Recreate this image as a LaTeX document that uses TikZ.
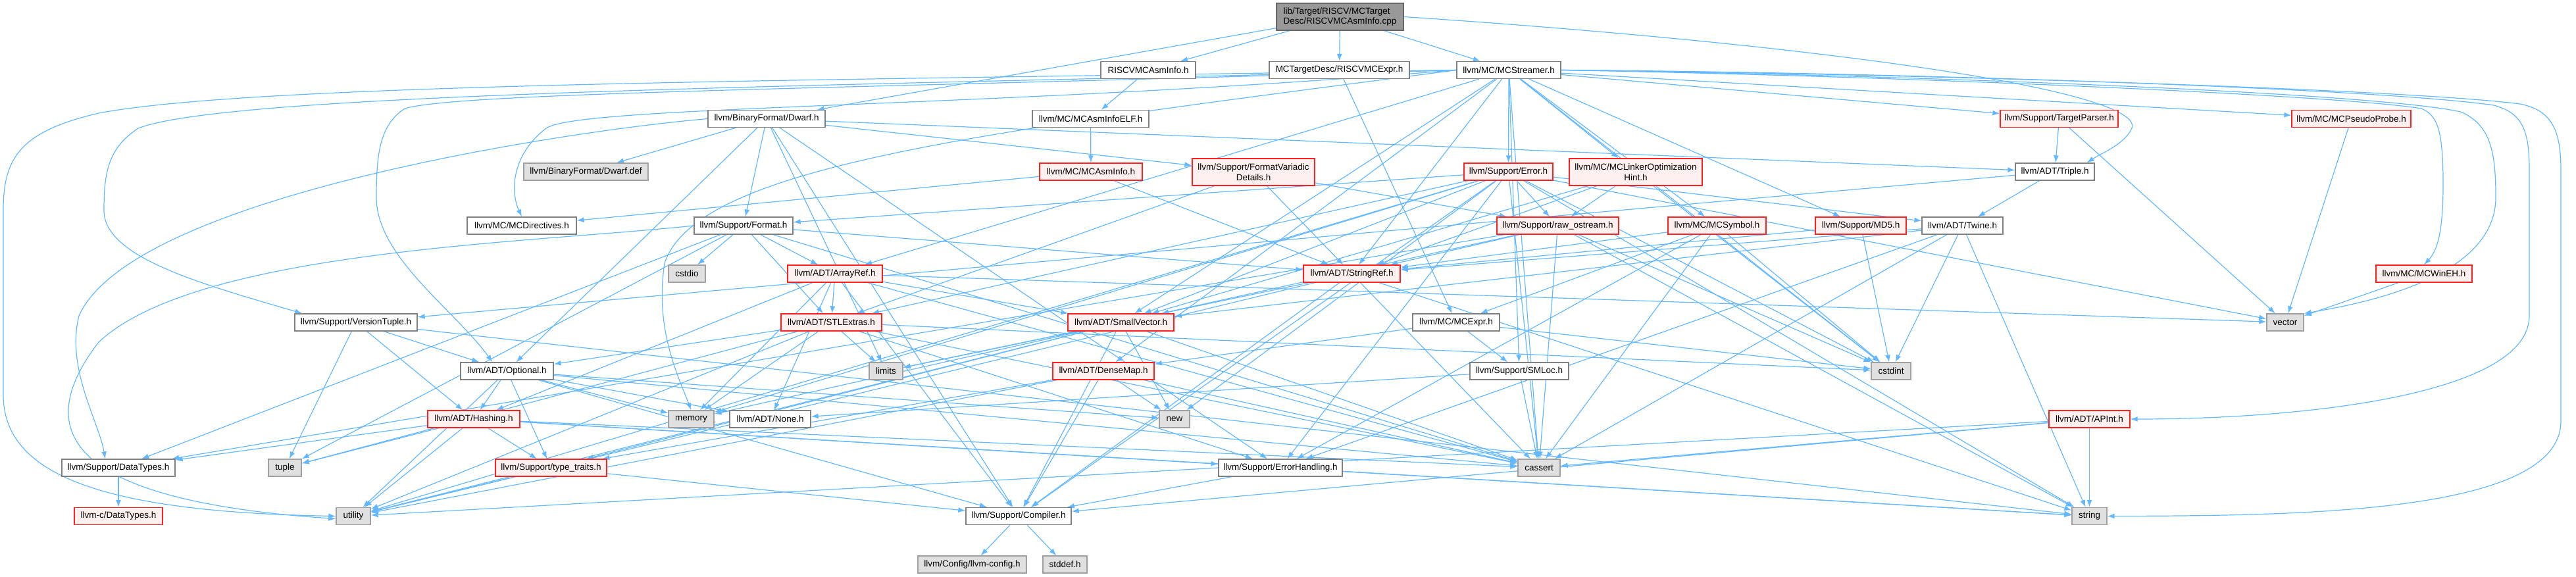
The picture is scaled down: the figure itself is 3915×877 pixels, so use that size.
\documentclass[tikz,border=0pt]{standalone}
\usepackage{fontspec}
\setmainfont{Liberation Sans}
\usetikzlibrary{arrows.meta}
\pgfdeclarelayer{bg}
\pgfsetlayers{bg,main}
\definecolor{edgec}{HTML}{63B8FF}
\definecolor{wbd}{HTML}{808080}
\definecolor{redfill}{HTML}{FFF0F0}
\definecolor{redbd}{HTML}{FF2020}
\definecolor{grayfill}{HTML}{E0E0E0}
\definecolor{graybd}{HTML}{A0A0A0}
\definecolor{mainfill}{HTML}{999999}
\definecolor{mainbd}{HTML}{666666}
\begin{document}
\begin{tikzpicture}[x=1pt,y=-1pt,
 base/.style={draw, line width=1.3pt, inner sep=0pt, minimum height=26pt, font=\fontsize{13.5}{15.5}\selectfont, anchor=center},
 wn/.style={base, fill=white, draw=wbd},
 rn/.style={base, fill=redfill, draw=redbd},
 gn/.style={base, fill=grayfill, draw=graybd},
 mn/.style={base, fill=mainfill, draw=mainbd},
 e/.style={draw=edgec, line width=1.2pt, -{Latex[length=11pt,width=8pt]}}]
\useasboundingbox (0,0) rectangle (3915,877);
% row 1
\node[mn, minimum width=193pt, minimum height=41pt, align=left] (main) at (2036.5,25.5) {lib/Target/RISCV/MCTarget\\Desc/RISCVMCAsmInfo.cpp};
% row 2
\node[wn, minimum width=144pt] (rAsm) at (1745,106.5) {RISCVMCAsmInfo.h};
\node[wn, minimum width=213pt] (rExpr) at (2035.5,106.5) {MCTargetDesc/RISCVMCExpr.h};
\node[wn, minimum width=158pt] (strm) at (2293,106.5) {llvm/MC/MCStreamer.h};
% row 3
\node[wn, minimum width=178pt] (dwarf) at (1165,180.5) {llvm/BinaryFormat/Dwarf.h};
\node[wn, minimum width=177pt] (asmELF) at (1657.5,180.5) {llvm/MC/MCAsmInfoELF.h};
\node[rn, minimum width=179pt] (tparse) at (3129.5,180.5) {llvm/Support/TargetParser.h};
\node[rn, minimum width=181pt] (pprobe) at (3573.5,180.5) {llvm/MC/MCPseudoProbe.h};
% row 4
\node[gn, minimum width=189pt] (dwdef) at (890.5,261) {llvm/BinaryFormat/Dwarf.def};
\node[rn, minimum width=156pt] (asmInfo) at (1658,261) {llvm/MC/MCAsmInfo.h};
\node[rn, minimum width=186pt, minimum height=41pt, align=center] (fvd) at (1905,261.5) {llvm/Support/FormatVariadic\\Details.h};
\node[rn, minimum width=135pt] (err) at (2292.5,261) {llvm/Support/Error.h};
\node[rn, minimum width=202pt, minimum height=41pt, align=center] (lohint) at (2486,261.5) {llvm/MC/MCLinkerOptimization\\Hint.h};
\node[wn, minimum width=120pt] (triple) at (3123,261) {llvm/ADT/Triple.h};
% row 5
\node[wn, minimum width=166pt] (mcdir) at (793,343) {llvm/MC/MCDirectives.h};
\node[wn, minimum width=150pt] (format) at (1130,343) {llvm/Support/Format.h};
\node[rn, minimum width=185pt] (rawos) at (2367.5,343) {llvm/Support/raw\_ostream.h};
\node[rn, minimum width=149pt] (mcsym) at (2609.5,343) {llvm/MC/MCSymbol.h};
\node[rn, minimum width=138pt] (md5) at (2828,343) {llvm/Support/MD5.h};
\node[wn, minimum width=123pt] (twine) at (2982.5,343) {llvm/ADT/Twine.h};
% row 6
\node[gn, minimum width=56pt] (cstdio) at (1044,416) {cstdio};
\node[rn, minimum width=144pt] (aref) at (1269,416) {llvm/ADT/ArrayRef.h};
\node[rn, minimum width=147pt] (sref) at (2054.5,416) {llvm/ADT/StringRef.h};
\node[rn, minimum width=146pt] (wineh) at (3684,416) {llvm/MC/MCWinEH.h};
% row 7
\node[wn, minimum width=186pt] (vtuple) at (541,490) {llvm/Support/VersionTuple.h};
\node[rn, minimum width=153pt] (stlx) at (1263.5,490) {llvm/ADT/STLExtras.h};
\node[rn, minimum width=161pt] (svec) at (1703.5,490) {llvm/ADT/SmallVector.h};
\node[wn, minimum width=132pt] (mcexpr) at (2213,490) {llvm/MC/MCExpr.h};
\node[gn, minimum width=56pt] (vect) at (3473,490) {vector};
% row 8
\node[wn, minimum width=141pt] (optl) at (770.5,564) {llvm/ADT/Optional.h};
\node[gn, minimum width=51pt] (limits) at (1346.5,564) {limits};
\node[rn, minimum width=154pt] (dmap) at (1677,564) {llvm/ADT/DenseMap.h};
\node[wn, minimum width=150pt] (smloc) at (2309,564) {llvm/Support/SMLoc.h};
\node[gn, minimum width=60pt] (cstdint) at (2874,564) {cstdint};
% row 9
\node[rn, minimum width=140pt] (hash) at (720,637) {llvm/ADT/Hashing.h};
\node[gn, minimum width=69pt] (memory) at (1050.5,637) {memory};
\node[wn, minimum width=123pt] (none) at (1170.5,637) {llvm/ADT/None.h};
\node[gn, minimum width=46pt] (newh) at (1785,637) {new};
\node[rn, minimum width=123pt] (apint) at (3175.5,637) {llvm/ADT/APInt.h};
% row 10
\node[wn, minimum width=172pt] (dtypes) at (180,711) {llvm/Support/DataTypes.h};
\node[gn, minimum width=50pt] (tuple) at (433,711) {tuple};
\node[rn, minimum width=169pt] (ttraits) at (837.5,711) {llvm/Support/type\_traits.h};
\node[wn, minimum width=188pt] (errh) at (1946,711) {llvm/Support/ErrorHandling.h};
\node[gn, minimum width=64pt] (cassert) at (2339,711) {cassert};
% row 11
\node[rn, minimum width=134pt] (cdtypes) at (180,784.5) {llvm-c/DataTypes.h};
\node[gn, minimum width=52pt] (utility) at (537,784.5) {utility};
\node[wn, minimum width=160pt] (compiler) at (1548,784.5) {llvm/Support/Compiler.h};
\node[gn, minimum width=53pt] (stringh) at (3175.5,784.5) {string};
% row 12
\node[gn, minimum width=165pt] (lcfg) at (1477.5,858) {llvm/Config/llvm-config.h};
\node[gn, minimum width=67pt] (stddef) at (1618.5,858) {stddef.h};

\begin{pgfonlayer}{bg}
% straight connectors
\foreach \a/\b in {main/rAsm, main/rExpr, main/strm, main/dwarf,
 rAsm/asmELF, asmELF/asmInfo, asmInfo/mcdir, asmInfo/sref,
 dwarf/dwdef, dwarf/format, dwarf/fvd, dwarf/triple, dwarf/optl, dwarf/compiler, dwarf/errh, dwarf/limits,
 strm/aref, strm/dmap, strm/svec, strm/sref, strm/lohint, strm/pprobe, strm/tparse, strm/err, strm/md5, strm/smloc, strm/mcsym, strm/cassert, strm/cstdint,
 rExpr/mcexpr, mcexpr/dmap, mcexpr/smloc, mcexpr/cstdint, smloc/none, smloc/cassert,
 triple/twine, triple/vtuple, tparse/triple, tparse/vect, pprobe/vect, wineh/vect,
 twine/svec, twine/sref, twine/errh, twine/cassert, twine/cstdint, twine/stringh,
 err/stlx, err/svec, err/twine, err/compiler, err/errh, err/format, err/rawos, err/cassert, err/cstdint, err/memory, err/newh, err/stringh, err/utility, err/vect,
 lohint/svec, lohint/sref, lohint/rawos, lohint/cstdint,
 fvd/sref, fvd/stlx, fvd/rawos,
 rawos/svec, rawos/sref, rawos/dtypes, rawos/cassert, rawos/cstdint, rawos/stringh,
 mcsym/sref, mcsym/mcexpr, mcsym/errh, mcsym/cassert, mcsym/cstdint,
 md5/sref, md5/cstdint,
 format/aref, format/stlx, format/sref, format/dtypes, format/cassert, format/cstdio, format/tuple,
 aref/hash, aref/none, aref/stlx, aref/svec, aref/compiler, aref/cassert, aref/memory, aref/vect,
 sref/compiler, sref/cassert, sref/limits, sref/stringh, sref/utility,
 stlx/optl, stlx/errh, stlx/cassert, stlx/cstdint, stlx/limits, stlx/memory, stlx/tuple, stlx/utility,
 svec/compiler, svec/ttraits, svec/cassert, svec/limits, svec/memory, svec/newh, svec/utility,
 vtuple/hash, vtuple/optl, vtuple/stringh, vtuple/tuple,
 optl/hash, optl/none, optl/compiler, optl/ttraits, optl/cassert, optl/memory, optl/newh, optl/utility,
 dmap/compiler, dmap/ttraits, dmap/cassert, dmap/newh, dmap/utility,
 hash/dtypes, hash/errh, hash/ttraits, hash/cassert, hash/stringh, hash/tuple, hash/utility,
 ttraits/utility, ttraits/compiler, dtypes/cdtypes, errh/compiler, errh/stringh,
 compiler/lcfg, compiler/stddef,
 apint/compiler, apint/cassert, apint/utility, apint/stringh}
 \draw[e] (\a) -- (\b);

% long curved connectors
\draw[e] (main.east) .. controls (2800,70) and (3260,140) .. (3240,195) .. controls (3228,220) and (3195,232) .. ([xshift=-12pt]triple.north east);
\draw[e] (strm.west) .. controls (1300,122) and (400,125) .. (150,172) .. controls (30,200) and (5,240) .. (5,320) -- (5,600) .. controls (5,720) and (150,778) .. (utility.west);
\draw[e] (strm.west) .. controls (1300,130) and (350,140) .. (210,195) .. controls (165,225) and (158,260) .. (158,320) .. controls (158,390) and (300,430) .. ([xshift=12pt]vtuple.north west);
\draw[e] (strm.west) .. controls (1300,135) and (700,140) .. (615,165) .. controls (578,190) and (572,230) .. (572,300) .. controls (572,390) and (690,470) .. ([xshift=-22pt]optl.north);
\draw[e] (strm.west) .. controls (1500,165) and (880,160) .. (830,195) .. controls (778,235) and (775,290) .. (mcdir.north);
\draw[e] (strm.west) .. controls (1500,200) and (1060,250) .. (1010,400) .. controls (995,500) and (1030,570) .. (memory.north);
\draw[e] (dwarf.west) .. controls (850,200) and (200,300) .. (120,480) .. controls (100,560) and (150,640) .. ([xshift=-20pt]dtypes.north);
\draw[e] (format.west) .. controls (800,370) and (300,380) .. (150,520) .. controls (50,650) and (90,760) .. ([yshift=-4pt]utility.west);
\draw[e] (strm.east) .. controls (2900,112) and (3650,135) .. (3830,158) .. controls (3880,168) and (3892,200) .. (3892,260) -- (3892,640) .. controls (3892,780) and (3500,784) .. (stringh.east);
\draw[e] (strm.east) .. controls (2900,110) and (3620,135) .. (3790,160) .. controls (3835,172) and (3844,200) .. (3844,260) -- (3844,480) .. controls (3844,600) and (3500,637) .. (apint.east);
\draw[e] (strm.east) .. controls (2900,114) and (3600,140) .. (3740,170) .. controls (3785,190) and (3793,230) .. (3793,300) .. controls (3793,420) and (3600,460) .. (vect.north east);
\draw[e] (strm.east) .. controls (2900,116) and (3560,145) .. (3680,165) .. controls (3705,175) and (3713,200) .. (3713,280) .. controls (3713,350) and (3705,380) .. (wineh.north);
\end{pgfonlayer}
\end{tikzpicture}
\end{document}
